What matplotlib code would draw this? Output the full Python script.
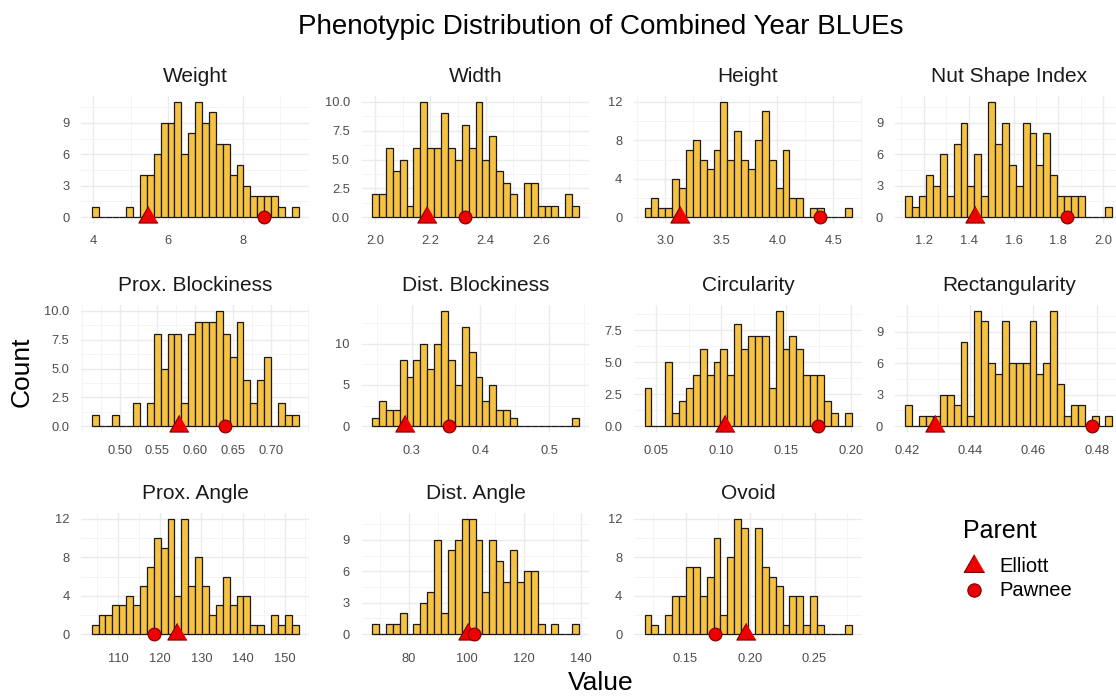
import matplotlib
matplotlib.use("Agg")
import matplotlib.pyplot as plt
import numpy as np
from matplotlib.ticker import AutoMinorLocator, FixedLocator

plt.rcParams["font.family"] = ["Liberation Sans", "DejaVu Sans"]

# ---- data: 30-bin histogram counts per trait (bins run left to right) ----
TRAITS = ["Weight", "Width", "Height", "Nut Shape Index",
          "Prox. Blockiness", "Dist. Blockiness", "Circularity", "Rectangularity",
          "Prox. Angle", "Dist. Angle", "Ovoid"]

weight = [1, 0, 0, 0, 0, 1, 0, 4, 4, 6, 9, 9, 11, 6, 8, 11, 9, 10, 7, 7, 4, 5, 3, 2, 2, 2, 2, 1, 0, 1]
width = [2, 2, 6, 4, 5, 1, 6, 10, 6, 6, 9, 6, 5, 8, 6, 10, 5, 7, 4, 3, 2, 0, 3, 3, 1, 1, 1, 0, 2, 1]
height = [1, 2, 1, 1, 4, 3, 7, 8, 6, 5, 7, 12, 6, 9, 6, 5, 8, 11, 6, 3, 7, 2, 2, 0, 1, 1, 0, 0, 0, 1]
nut_shape = [2, 1, 2, 4, 3, 6, 2, 7, 9, 3, 6, 2, 11, 7, 9, 5, 3, 9, 8, 5, 8, 4, 2, 2, 2, 2, 0, 0, 0, 1]
prox_block = [1, 0, 0, 1, 0, 0, 2, 0, 2, 8, 5, 8, 8, 2, 8, 9, 9, 9, 10, 8, 6, 9, 4, 2, 4, 6, 0, 2, 1, 1]
dist_block = [1, 3, 2, 2, 8, 6, 8, 10, 7, 10, 14, 8, 5, 12, 9, 6, 3, 5, 2, 2, 1, 0, 0, 0, 0, 0, 0, 0, 0, 1]
circularity = [3, 0, 0, 5, 1, 2, 3, 4, 6, 4, 5, 6, 4, 8, 6, 7, 7, 7, 3, 9, 6, 7, 6, 4, 4, 4, 2, 1, 0, 1]
rectangularity = [2, 0, 1, 1, 1, 3, 3, 2, 8, 1, 11, 10, 6, 5, 10, 6, 6, 6, 10, 5, 6, 11, 4, 1, 2, 2, 0, 1, 0, 1]
prox_angle = [1, 2, 2, 3, 3, 4, 3, 5, 7, 10, 9, 12, 4, 12, 5, 8, 5, 2, 3, 6, 3, 4, 4, 1, 1, 0, 2, 1, 2, 1]
dist_angle = [1, 0, 1, 1, 2, 0, 1, 3, 4, 9, 2, 8, 9, 11, 11, 9, 4, 9, 7, 5, 8, 5, 6, 6, 1, 0, 1, 0, 0, 1]
ovoid = [2, 1, 0, 2, 4, 4, 7, 7, 4, 6, 10, 2, 8, 12, 11, 0, 11, 7, 6, 5, 1, 4, 4, 1, 4, 1, 0, 0, 0, 1]

COUNTS = [weight, width, height, nut_shape, prox_block, dist_block,
          circularity, rectangularity, prox_angle, dist_angle, ovoid]

# centre of the first and last bin (min / max BLUE of each trait)
BIN_SPAN = [(4.049, 9.404), (2.0015, 2.7255), (2.846, 4.633), (1.133, 2.025),
            (0.4676, 0.7324), (0.2475, 0.5385), (0.04365, 0.19755), (0.42065, 0.48381),
            (104.43, 152.57), (68.3, 138.0), (0.12088, 0.27603)]

# parental BLUEs
ELLIOTT = [5.46, 2.188, 3.128, 1.43, 0.578, 0.29, 0.1026, 0.4289, 124.2, 100.5, 0.1965]
PAWNEE = [8.58, 2.325, 4.381, 1.84, 0.640, 0.355, 0.1744, 0.4784, 118.6, 102.5, 0.1725]

X_TICKS = [["4", "6", "8"], ["2.0", "2.2", "2.4", "2.6"], ["3.0", "3.5", "4.0", "4.5"],
           ["1.2", "1.4", "1.6", "1.8", "2.0"], ["0.50", "0.55", "0.60", "0.65", "0.70"],
           ["0.3", "0.4", "0.5"], ["0.05", "0.10", "0.15", "0.20"],
           ["0.42", "0.44", "0.46", "0.48"], ["110", "120", "130", "140", "150"],
           ["80", "100", "120", "140"], ["0.15", "0.20", "0.25"]]
Y_TICKS = [["0", "3", "6", "9"], ["0.0", "2.5", "5.0", "7.5", "10.0"], ["0", "4", "8", "12"],
           ["0", "3", "6", "9"], ["0.0", "2.5", "5.0", "7.5", "10.0"], ["0", "5", "10"],
           ["0.0", "2.5", "5.0", "7.5"], ["0", "3", "6", "9"], ["0", "4", "8", "12"],
           ["0", "3", "6", "9"], ["0", "4", "8", "12"]]

# ---- styling / layout (pixels) ----
W_PX, H_PX = 1116, 696
FILL = "#F6C242"
EDGE = "#1A1A1A"
RED = "#EE0000"
RED_EDGE = "#7A0000"
TICK_GREY = "#4D4D4D"
TRI = [(0.0, 1.0), (-0.866, -0.5), (0.866, -0.5)]

COL_X = [81.3, 361.7, 634.2, 895.0]
ROW_Y = [96.0, 305.0, 513.0]
PANEL_W, PANEL_H = 227.7, 127.0

fig = plt.figure(figsize=(W_PX / 100, H_PX / 100), dpi=100)


def panel_axes(i):
    x0 = COL_X[i % 4]
    y0 = ROW_Y[i // 4]
    return fig.add_axes([x0 / W_PX, 1 - (y0 + PANEL_H) / H_PX,
                         PANEL_W / W_PX, PANEL_H / H_PX])


for i, trait in enumerate(TRAITS):
    ax = panel_axes(i)
    counts = np.asarray(COUNTS[i])
    lo, hi = BIN_SPAN[i]
    bw = (hi - lo) / (len(counts) - 1)
    centers = lo + bw * np.arange(len(counts))

    ax.bar(centers, counts, width=bw, color=FILL, edgecolor=EDGE,
           linewidth=0.9, zorder=2)
    ax.plot([ELLIOTT[i]], [0], ls="none", marker=TRI, ms=16, mfc=RED,
            mec=RED_EDGE, mew=0.8, zorder=3, clip_on=False)
    ax.plot([PAWNEE[i]], [0], ls="none", marker="o", ms=9.2, mfc=RED,
            mec=RED_EDGE, mew=0.8, zorder=4, clip_on=False)

    left, right = lo - bw / 2, hi + bw / 2
    pad = 0.05 * (right - left)
    ax.set_xlim(left - pad, right + pad)
    ymax = counts.max()
    ax.set_ylim(-0.05 * ymax, 1.05 * ymax)

    xt = X_TICKS[i]
    yt = Y_TICKS[i]
    ax.xaxis.set_major_locator(FixedLocator([float(t) for t in xt]))
    ax.set_xticklabels(xt)
    ax.yaxis.set_major_locator(FixedLocator([float(t) for t in yt]))
    ax.set_yticklabels(yt)
    ax.xaxis.set_minor_locator(AutoMinorLocator(2))
    ax.yaxis.set_minor_locator(AutoMinorLocator(2))

    ax.grid(which="major", color="#EBEBEB", lw=1.0, zorder=0)
    ax.grid(which="minor", color="#F3F3F3", lw=0.6, zorder=0)
    ax.set_axisbelow(True)
    for s in ax.spines.values():
        s.set_visible(False)
    ax.tick_params(which="both", length=0)
    ax.tick_params(axis="x", pad=9, labelsize=9.3, labelcolor=TICK_GREY)
    ax.tick_params(axis="y", pad=8.5, labelsize=9.3, labelcolor=TICK_GREY)
    ax.set_title(trait, fontsize=15, color="#1A1A1A", pad=10)

# overlay in pixel coordinates for the shared labels and the legend
ov = fig.add_axes([0, 0, 1, 1], zorder=-1)
ov.set_xlim(0, W_PX)
ov.set_ylim(H_PX, 0)
ov.axis("off")

ov.text(601, 27, "Phenotypic Distribution of Combined Year BLUEs",
        ha="center", va="center", fontsize=20, color="#000000")
ov.text(22, 372, "Count", rotation=90, ha="center", va="center", fontsize=19)
ov.text(601, 683, "Value", ha="center", va="center", fontsize=19)

ov.text(963, 531, "Parent", ha="left", va="center", fontsize=18)
ov.plot([974], [566], ls="none", marker=TRI, ms=17, mfc=RED, mec=RED_EDGE, mew=0.8)
ov.plot([974], [590], ls="none", marker="o", ms=9.6, mfc=RED, mec=RED_EDGE, mew=0.8)
ov.text(999, 567, "Elliott", ha="left", va="center", fontsize=14.5)
ov.text(999, 590, "Pawnee", ha="left", va="center", fontsize=14.5)

fig.savefig("out.png", dpi=100, facecolor="white")
